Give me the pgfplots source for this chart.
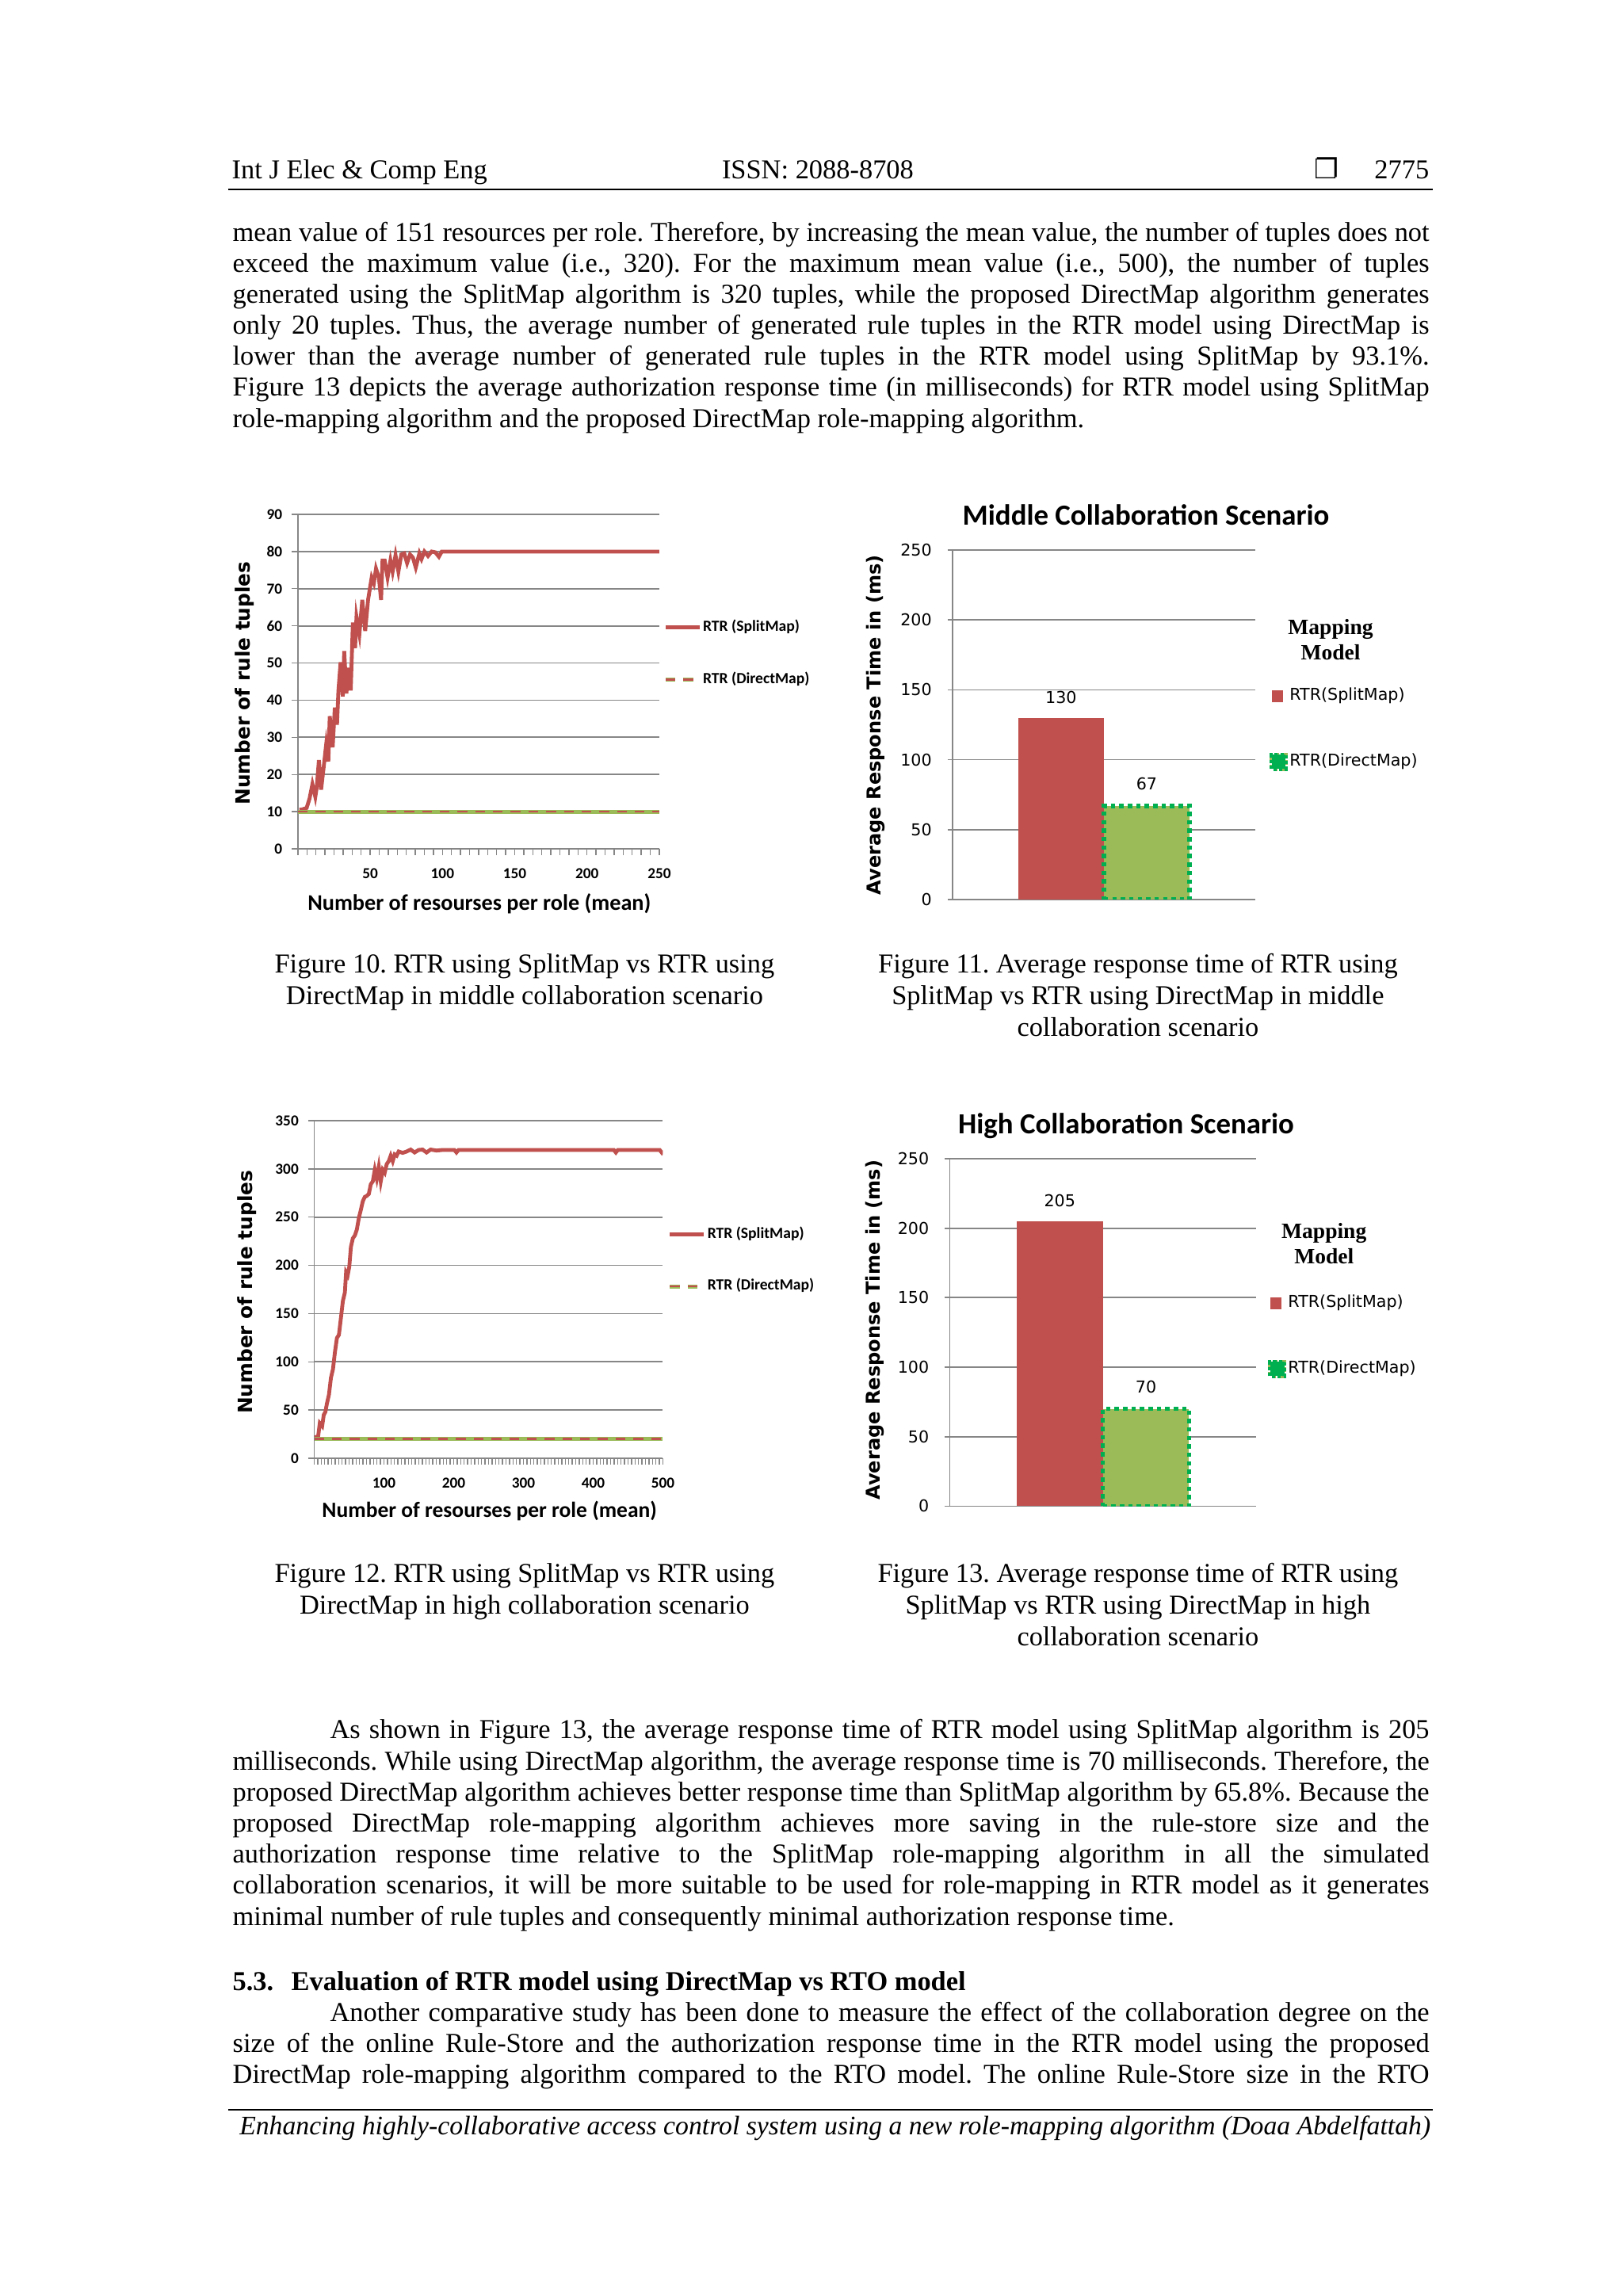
\documentclass[border=0pt]{standalone}
\usepackage{fontspec}
\setmainfont{Liberation Serif}
\newfontfamily\carlito{Carlito}
\newfontfamily\dejavu{DejaVu Sans}
\usepackage{pgfplots}
\pgfplotsset{compat=1.18}
\frenchspacing

\definecolor{xlred}{HTML}{C0504D}
\definecolor{xlgreen}{HTML}{9BBB59}
\definecolor{xldot}{HTML}{00B050}
\definecolor{xlgrid}{HTML}{868686}

\newcommand\jline[1]{\makebox[438.7pt][s]{#1}}

\pgfplotsset{
  linechart/.style={
    scale only axis, anchor=south west,
    axis lines=left, axis line style={xlgrid,line width=0.5pt,-},
    ymajorgrids, grid style={xlgrid,line width=0.5pt},
    tick align=outside, tick style={xlgrid,line width=0.4pt},
    major tick length=2.2pt, minor tick length=2.2pt,
    /pgf/number format/assume math mode=true,
    ticklabel style={font=\carlito\bfseries\fontsize{5.6}{6}\selectfont},
    xticklabel style={yshift=-1.6pt},
    ylabel style={font=\dejavu\bfseries\fontsize{7.2}{8}\selectfont, anchor=center},
    xlabel style={anchor=center},
    legend style={draw=none, fill=none, inner sep=0pt, anchor=west,
      font=\carlito\bfseries\fontsize{5.7}{6}\selectfont, row sep=12.3pt,
      nodes={inner sep=0.5pt}},
    legend cell align=left,
  },
  barchart/.style={
    scale only axis, anchor=south west, clip mode=individual,
    ybar=0pt, bar width=31.4pt,
    xmin=-1, xmax=1, xtick=\empty,
    ymin=0, ymax=250, ytick={0,50,...,250},
    axis lines=left, axis line style={xlgrid,line width=0.5pt,-},
    ymajorgrids, grid style={xlgrid,line width=0.5pt},
    tick align=outside, tick style={xlgrid,line width=0.5pt},
    major tick length=1.8pt,
    /pgf/number format/assume math mode=true,
    ticklabel style={font=\dejavu\fontsize{6}{7}\selectfont},
    yticklabel style={xshift=-2.3pt},
    ylabel style={font=\dejavu\bfseries\fontsize{7}{8}\selectfont, anchor=center},
    every axis title/.style={anchor=center, font=\carlito\bfseries\fontsize{10.7}{12}\selectfont},
    nodes near coords,
    every node near coord/.append style={font=\dejavu\fontsize{6}{7}\selectfont,
      text=black, inner sep=0pt, yshift=5pt},
    legend style={draw=none, fill=none, inner sep=0pt, anchor=west,
      font=\dejavu\fontsize{6}{7}\selectfont, row sep=16.8pt,
      nodes={inner sep=0.6pt}},
    legend cell align=left,
  },
  splitimg/.style={legend image code/.code={
    \draw[xlred,line width=1.4pt] (0pt,0pt) -- (12.5pt,0pt);}},
  directimg/.style={legend image code/.code={
    \draw[xlgreen,line width=1.5pt] (0pt,0pt) -- (12.5pt,0pt);
    \draw[xlred,line width=0.8pt,dash pattern=on 3.6pt off 2.9pt] (0pt,0pt) -- (12.5pt,0pt);}},
  redsq/.style={legend image code/.code={
    \fill[xlred] (0pt,-2.1pt) rectangle (4.3pt,2.1pt);}},
  greensq/.style={legend image code/.code={
    \fill[xlgreen] (0pt,-2.6pt) rectangle (5.2pt,2.6pt);
    \draw[xldot,line width=1.3pt,dash pattern=on 1.2pt off 0.9pt] (0pt,-2.6pt) rectangle (5.2pt,2.6pt);}},
}

\begin{document}
\begin{tikzpicture}
\fill[white] (0,0) rectangle (595.0pt,-841.7pt);

% ---------- page text (coordinates in pixels of the page) ----------
\begin{scope}[x=0.29053pt,y=-0.29053pt,every node/.style={inner sep=0pt}]
\node[anchor=base west] at (292,225) {Int J Elec \& Comp Eng};
\node[anchor=base] at (1032,225) {ISSN: 2088-8708};
\node[anchor=base] at (1674,225) {\dejavu ❐};
\node[anchor=base east] at (1804,225) {2775};
\draw[line width=0.6pt] (288,239) -- (1808,239);

\node[anchor=base west] at (293,304) {\jline{mean value of 151 resources per role. Therefore, by increasing the mean value, the number of tuples does not}};
\node[anchor=base west] at (293,343.2) {\jline{exceed the maximum value (i.e., 320). For the maximum mean value (i.e., 500), the number of tuples}};
\node[anchor=base west] at (293,382.4) {\jline{generated using the SplitMap algorithm is 320 tuples, while the proposed DirectMap algorithm generates}};
\node[anchor=base west] at (293,421.6) {\jline{only 20 tuples. Thus, the average number of generated rule tuples in the RTR model using DirectMap is}};
\node[anchor=base west] at (293,460.8) {\jline{lower than the average number of generated rule tuples in the RTR model using SplitMap by 93.1\%.}};
\node[anchor=base west] at (293,500) {\jline{Figure 13 depicts the average authorization response time (in milliseconds) for RTR model using SplitMap}};
\node[anchor=base west] at (293,539.2) {role-mapping algorithm and the proposed DirectMap role-mapping algorithm.};

\node[anchor=base] at (662,1228) {Figure 10. RTR using SplitMap vs RTR using};
\node[anchor=base] at (662,1268) {DirectMap in middle collaboration scenario};
\node[anchor=base] at (1436,1228) {Figure 11. Average response time of RTR using};
\node[anchor=base] at (1436,1268) {SplitMap vs RTR using DirectMap in middle};
\node[anchor=base] at (1436,1308) {collaboration scenario};

\node[anchor=base] at (662,1997) {Figure 12. RTR using SplitMap vs RTR using};
\node[anchor=base] at (662,2037) {DirectMap in high collaboration scenario};
\node[anchor=base] at (1436,1997) {Figure 13. Average response time of RTR using};
\node[anchor=base] at (1436,2037) {SplitMap vs RTR using DirectMap in high};
\node[anchor=base] at (1436,2077) {collaboration scenario};

\node[anchor=base west] at (293,2194) {\jline{\hspace*{35.7pt}As shown in Figure 13, the average response time of RTR model using SplitMap algorithm is 205}};
\node[anchor=base west] at (293,2233.2) {\jline{milliseconds. While using DirectMap algorithm, the average response time is 70 milliseconds. Therefore, the}};
\node[anchor=base west] at (293,2272.4) {\jline{proposed DirectMap algorithm achieves better response time than SplitMap algorithm by 65.8\%. Because the}};
\node[anchor=base west] at (293,2311.6) {\jline{proposed DirectMap role-mapping algorithm achieves more saving in the rule-store size and the}};
\node[anchor=base west] at (293,2350.8) {\jline{authorization response time relative to the SplitMap role-mapping algorithm in all the simulated}};
\node[anchor=base west] at (293,2390) {\jline{collaboration scenarios, it will be more suitable to be used for role-mapping in RTR model as it generates}};
\node[anchor=base west] at (293,2429.2) {minimal number of rule tuples and consequently minimal authorization response time.};

\node[anchor=base west] at (293,2512) {\bfseries 5.3.};
\node[anchor=base west] at (367,2512) {\bfseries Evaluation of RTR model using DirectMap vs RTO model};
\node[anchor=base west] at (293,2550.2) {\jline{\hspace*{35.7pt}Another comparative study has been done to measure the effect of the collaboration degree on the}};
\node[anchor=base west] at (293,2589.4) {\jline{size of the online Rule-Store and the authorization response time in the RTR model using the proposed}};
\node[anchor=base west] at (293,2628.6) {\jline{DirectMap role-mapping algorithm compared to the RTO model. The online Rule-Store size in the RTO}};

\draw[line width=0.6pt] (288,2662) -- (1808,2662);
\node[anchor=base east] at (1806,2694) {\fontsize{9.8}{11}\selectfont\itshape Enhancing highly-collaborative access control system using a new role-mapping algorithm (Doaa Abdelfattah)};
\end{scope}

% ---------- Figure 10 ----------
\begin{axis}[linechart,
  at={(109.24pt,-311.16pt)}, width=132.48pt, height=122.6pt,
  xmin=0, xmax=250, ymin=0, ymax=90,
  xtick={50,100,...,250}, minor xtick={0,6.25,...,250},
  ytick={0,10,...,90},
  xlabel={Number of resourses per role (mean)},
  xlabel style={at={(axis description cs:0.502,-0.165)}, font=\carlito\bfseries\fontsize{8.2}{9}\selectfont},
  ylabel={Number of rule tuples},
  ylabel style={at={(axis description cs:-0.147,0.495)}},
  legend style={at={(1.010,0.584)}},
]
\addplot[xlred, line width=1.4pt, splitimg] coordinates {
(1,10.5)(3,10.6)(6,11)(8,13.5)(10,17.4)(12,14)(13,16.5)(14.5,23.9)(16,15.9)(18,22.7)
(19.5,28)(21,23.5)(22,35.7)(24,27.3)(25.5,38)(27,33.4)(28,42.6)(29.5,50.2)(31,41)(32,53.2)
(33.5,41.8)(35,48.7)(36.5,42.6)(38,60.9)(39.5,54)(40.5,62.4)(42.5,57.8)(44.5,67)(46.5,58.6)(48.5,67)
(51,73)(52.5,71.5)(54,75.4)(56,73)(57.5,67)(58.5,77.6)(60,77.6)(62,73)(64,77.6)(65.5,74.6)
(67.5,79)(69.5,74.6)(71.5,79.2)(73.5,79.5)(75.5,76.9)(77.5,79.2)(79.5,78.4)(81.5,75.7)(84,79.5)(85.5,78)
(87.5,80)(90,78.8)(92.5,80)(95,79.8)(97.5,78.6)(99.5,80)(250,80)
};
\addlegendentry{RTR (SplitMap)}
\addplot[xlgreen, line width=1.5pt, forget plot] coordinates {(0,10)(250,10)};
\addplot[xlred, line width=0.8pt, dash pattern=on 3.6pt off 2.9pt, directimg] coordinates {(0,10)(250,10)};
\addlegendentry{RTR (DirectMap)}
\end{axis}

% ---------- Figure 11 ----------
\begin{axis}[barchart,
  at={(349.22pt,-329.75pt)}, width=110.98pt, height=128.12pt,
  title={Middle Collaboration Scenario},
  title style={at={(axis description cs:0.639,1.101)}},
  ylabel={Average Response Time in  (ms)},
  ylabel style={at={(axis description cs:-0.255,0.499)}},
  legend style={at={(1.045,0.4875)}},
]
\addplot[fill=xlred, draw=none, redsq] coordinates {(0,130)};
\addlegendentry{RTR(SplitMap)}
\addplot[fill=xlgreen, draw=xldot, line width=1.6pt, dash pattern=on 1.6pt off 1.5pt, greensq] coordinates {(0,67)};
\addlegendentry{RTR(DirectMap)}
\node[font=\bfseries\fontsize{8}{9.3}\selectfont, align=center] at (axis description cs:1.249,0.744) {Mapping\\Model};
\end{axis}

% ---------- Figure 12 ----------
\begin{axis}[linechart,
  at={(115.2pt,-534.58pt)}, width=127.83pt, height=123.77pt,
  xmin=0, xmax=500, ymin=0, ymax=350,
  xtick={100,200,...,500}, minor xtick={0,5,...,500},
  ytick={0,50,...,350},
  xlabel={Number of resourses per role (mean)},
  xlabel style={at={(axis description cs:0.503,-0.157)}, font=\carlito\bfseries\fontsize{8}{9}\selectfont},
  ylabel={Number of rule tuples},
  ylabel style={at={(axis description cs:-0.192,0.492)}},
  legend style={at={(1.013,0.586)}},
]
\addplot[xlred, line width=1.4pt, splitimg] coordinates {
(1,21.5)(5.7,23)(8,36.3)(11.4,33.3)(13.7,45)(16,48)(18.3,57)(21.1,65.8)(24,83.5)(26.9,92.4)
(29.7,110)(32.6,124.8)(35.4,127.8)(38.3,145.5)(41.1,163)(44,172)(45.7,192.7)(48,189.7)(50.3,198.6)(52.6,219)
(55.4,228)(58.3,231)(61.1,237)(64,249)(66.9,257.6)(69.7,266.5)(72.6,271)(75.4,272)(78.3,274)(81.1,284)
(84,287)(86.9,299)(89.7,290)(92.6,302)(95.4,287)(98.3,299)(101.1,296)(104,305)(106.9,308)(109.7,313.7)
(112.6,308)(115.4,315)(118.3,313.7)(121.1,318)(126.9,316.6)(132.6,318)(138.3,320)(144,317)(149.7,319.6)(155.4,320)
(161.1,317)(166.9,320)(175.4,319)(184,319.6)(201,319.6)(204,317)(207,319.6)(429.7,319.6)(432.6,317)(435.4,319.6)
(495.4,319.6)(498.3,317)(500,319)
};
\addlegendentry{RTR (SplitMap)}
\addplot[xlgreen, line width=1.5pt, forget plot] coordinates {(0,20)(500,20)};
\addplot[xlred, line width=0.8pt, dash pattern=on 3.6pt off 2.9pt, directimg] coordinates {(0,20)(500,20)};
\addlegendentry{RTR (DirectMap)}
\end{axis}

% ---------- Figure 13 ----------
\begin{axis}[barchart,
  at={(348.2pt,-552.15pt)}, width=112.29pt, height=127.4pt,
  bar width=31.6pt,
  title={High Collaboration Scenario},
  title style={at={(axis description cs:0.576,1.094)}},
  ylabel={Average Response Time in  (ms)},
  ylabel style={at={(axis description cs:-0.244,0.507)}},
  legend style={at={(1.037,0.489)}},
]
\addplot[fill=xlred, draw=none, redsq] coordinates {(0,205)};
\addlegendentry{RTR(SplitMap)}
\addplot[fill=xlgreen, draw=xldot, line width=1.6pt, dash pattern=on 1.6pt off 1.5pt, greensq] coordinates {(0,70)};
\addlegendentry{RTR(DirectMap)}
\node[font=\bfseries\fontsize{8}{9.3}\selectfont, align=center] at (axis description cs:1.222,0.755) {Mapping\\Model};
\end{axis}
\end{tikzpicture}
\end{document}
